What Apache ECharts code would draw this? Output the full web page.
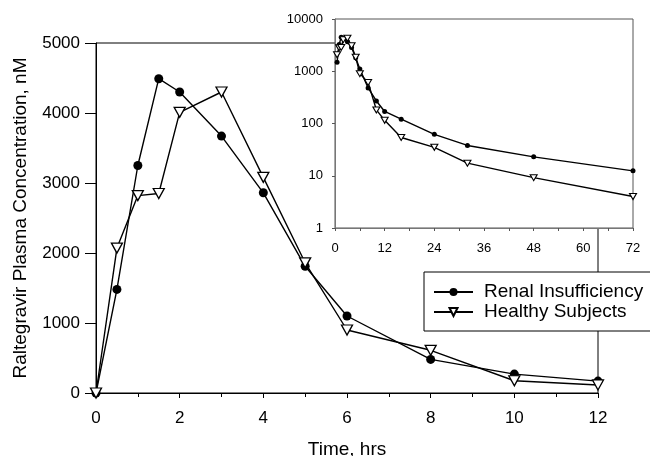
<!DOCTYPE html>
<html>
<head>
<meta charset="utf-8">
<script src="https://cdn.jsdelivr.net/npm/echarts@6/dist/echarts.min.js"></script>
<style>html,body{margin:0;padding:0;background:#fff}#c{width:650px;height:456px}</style>
</head>
<body>
<div id="c"></div>
<script>
const mainTimes = [0, 0.5, 1, 1.5, 2, 3, 4, 5, 6, 8, 10, 12];
const renalMain = [0, 1480, 3250, 4490, 4300, 3670, 2860, 1810, 1100, 480, 270, 170];
const healthyMain = [0, 2070, 2820, 2850, 4010, 4300, 3080, 1860, 900, 610, 175, 115];
const insetTimes = [0.5, 1, 1.5, 2, 3, 4, 5, 6, 8, 10, 12, 16, 24, 32, 48, 72];
const renalInset = [1480, 3250, 4490, 4300, 3670, 2860, 1810, 1100, 480, 270, 170, 121, 62, 38, 23, 12.4];
const healthyInset = [2070, 2820, 2850, 4010, 4300, 3080, 1860, 900, 610, 182, 115, 54, 35, 17.4, 9.2, 4.0];
const mainXTicks = [0, 2, 4, 6, 8, 10, 12];
const insetXTicks = [0, 12, 24, 36, 48, 60, 72];
const seriesNames = ['Renal Insufficiency', 'Healthy Subjects'];

const pair = (xs, ys) => xs.map((x, i) => [x, ys[i]]);
const plain = v => String(v);
const FONT = '"Liberation Sans", Arial, Helvetica, sans-serif';

const chart = echarts.init(document.getElementById('c'), null, {renderer: 'canvas'});
chart.setOption({
  animation: false,
  backgroundColor: '#fff',
  textStyle: {fontFamily: FONT, color: '#000'},
  grid: [
    {left: 96, right: 52, top: 43, bottom: 63, show: true, borderColor: '#000', borderWidth: 1,
     backgroundColor: 'transparent', containLabel: false, outerBoundsMode: 'none'},
    {left: 335, right: 17, top: 19, bottom: 228, show: true, borderColor: '#555', borderWidth: 1,
     backgroundColor: '#fff', zlevel: 1, containLabel: false, outerBoundsMode: 'none'}
  ],
  legend: {
    data: seriesNames,
    orient: 'vertical',
    left: 424, top: 272,
    padding: [10, 15, 9, 9],
    itemGap: 0,
    itemWidth: 39, itemHeight: 10,
    backgroundColor: '#fff',
    borderColor: '#000', borderWidth: 1,
    textStyle: {fontSize: 19, fontFamily: FONT, color: '#000', lineHeight: 20, padding: [0, 0, 0, 6]},
    selectedMode: false
  },
  xAxis: [
    {
      type: 'value', gridIndex: 0, min: mainXTicks[0], max: mainXTicks[mainXTicks.length - 1], interval: 2,
      name: 'Time, hrs', nameLocation: 'middle', nameGap: 47,
      nameTextStyle: {fontSize: 19, fontFamily: FONT, color: '#000'},
      axisLine: {lineStyle: {color: '#000', width: 1}},
      axisTick: {length: 5, lineStyle: {color: '#000'}},
      minorTick: {show: true, splitNumber: 2, length: 4, lineStyle: {color: '#000'}},
      axisLabel: {fontSize: 17, margin: 17, color: '#000', fontFamily: FONT, formatter: plain},
      splitLine: {show: false}
    },
    {
      type: 'value', gridIndex: 1, min: insetXTicks[0], max: insetXTicks[insetXTicks.length - 1], interval: 12,
      zlevel: 1,
      axisLine: {lineStyle: {color: '#777', width: 1}},
      axisTick: {length: 3, lineStyle: {color: '#555'}},
      minorTick: {show: true, splitNumber: 2, length: 3, lineStyle: {color: '#555'}},
      axisLabel: {fontSize: 13, margin: 14, color: '#000', fontFamily: FONT, formatter: plain},
      splitLine: {show: false}
    }
  ],
  yAxis: [
    {
      type: 'value', gridIndex: 0, min: 0, max: 5000, interval: 1000,
      name: 'Raltegravir Plasma Concentration, nM', nameLocation: 'middle', nameGap: 66,
      nameTextStyle: {fontSize: 19, fontFamily: FONT, color: '#000'},
      axisLine: {show: true, lineStyle: {color: '#000', width: 1}},
      axisTick: {show: true, length: 11, lineStyle: {color: '#000'}},
      axisLabel: {fontSize: 17, margin: 16, color: '#000', fontFamily: FONT, formatter: plain},
      splitLine: {show: false}
    },
    {
      type: 'log', logBase: 10, gridIndex: 1, min: 1, max: 10000,
      zlevel: 1,
      axisLine: {show: true, lineStyle: {color: '#777', width: 1}},
      axisTick: {show: true, length: 3, lineStyle: {color: '#555'}},
      axisLabel: {fontSize: 13, margin: 12, color: '#000', fontFamily: FONT, formatter: plain},
      splitLine: {show: false}
    }
  ],
  series: [
    {
      name: seriesNames[0], type: 'line', xAxisIndex: 0, yAxisIndex: 0,
      data: pair(mainTimes, renalMain),
      symbol: 'circle', symbolSize: 9,
      itemStyle: {color: '#000'},
      lineStyle: {color: '#000', width: 1.4}
    },
    {
      name: seriesNames[1], type: 'line', xAxisIndex: 0, yAxisIndex: 0,
      data: pair(mainTimes, healthyMain),
      symbol: 'triangle', symbolRotate: 180, symbolSize: [11, 10],
      itemStyle: {color: '#fff', borderColor: '#000', borderWidth: 1.3},
      lineStyle: {color: '#000', width: 1.4}
    },
    {
      name: seriesNames[0], type: 'line', xAxisIndex: 1, yAxisIndex: 1, zlevel: 1,
      data: pair(insetTimes, renalInset),
      symbol: 'circle', symbolSize: 5,
      itemStyle: {color: '#000'},
      lineStyle: {color: '#000', width: 1.4}
    },
    {
      name: seriesNames[1], type: 'line', xAxisIndex: 1, yAxisIndex: 1, zlevel: 1,
      data: pair(insetTimes, healthyInset),
      symbol: 'triangle', symbolRotate: 180, symbolSize: [7, 6],
      itemStyle: {color: '#fff', borderColor: '#000', borderWidth: 1.1},
      lineStyle: {color: '#000', width: 1.4}
    }
  ]
});
</script>
</body>
</html>
